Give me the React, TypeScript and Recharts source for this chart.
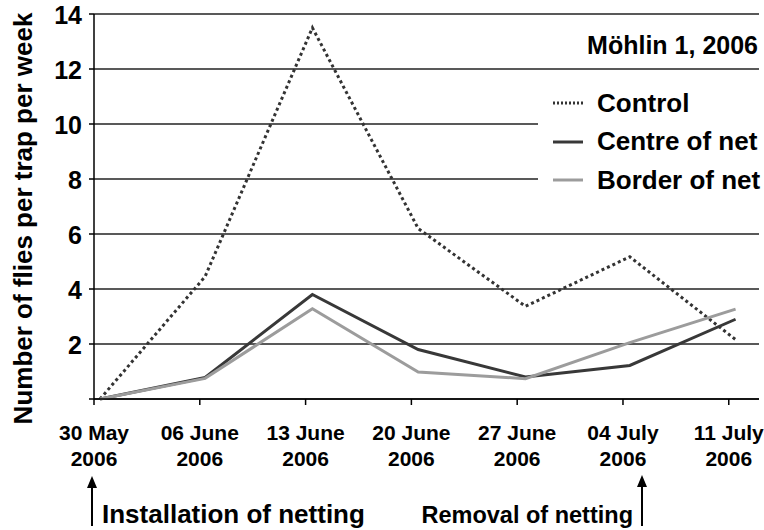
import React from 'react';
import { LineChart, Line, XAxis, YAxis, CartesianGrid, Label } from 'recharts';

const FONT = '"Liberation Sans", Arial, sans-serif';

const tickDates = ['30 May', '06 June', '13 June', '20 June', '27 June', '04 July', '11 July'];
const tickYear = '2006';
const tickDays = [0, 7, 14, 21, 28, 35, 42];
const yTicks = [0, 2, 4, 6, 8, 10, 12, 14];

// sampling days relative to 30 May (points sit a little right of the ticks)
const sampleDays = [0.4, 7.35, 14.45, 21.45, 28.55, 35.45, 42.45];
const control = [0, 4.45, 13.5, 6.2, 3.37, 5.17, 2.16];
const centre = [0, 0.78, 3.8, 1.8, 0.8, 1.22, 2.9];
const border = [0, 0.75, 3.28, 0.98, 0.74, 2.05, 3.27];

const series = [
  { key: 'control', name: 'Control', color: '#333333', dash: '3 3' },
  { key: 'centre', name: 'Centre of net', color: '#383838', dash: undefined },
  { key: 'border', name: 'Border of net', color: '#9c9c9c', dash: undefined },
];

const data = sampleDays.map((day, i) => ({
  day,
  control: control[i],
  centre: centre[i],
  border: border[i],
}));

const DateTick = ({ x, y, payload }: any) => {
  const i = tickDays.indexOf(payload.value);
  const style = { fontFamily: FONT, fontSize: 21, fontWeight: 'bold' as const, fill: '#000' };
  return (
    <g>
      <text x={x} y={y + 25} textAnchor="middle" dominantBaseline="central" style={style}>
        {tickDates[i]}
      </text>
      <text x={x} y={y + 51} textAnchor="middle" dominantBaseline="central" style={style}>
        {tickYear}
      </text>
    </g>
  );
};

const CountTick = ({ x, y, payload }: any) =>
  payload.value === 0 ? null : (
    <text
      x={x}
      y={y + 1}
      textAnchor="end"
      dominantBaseline="central"
      style={{ fontFamily: FONT, fontSize: 25, fontWeight: 'bold', fill: '#000' }}
    >
      {payload.value}
    </text>
  );

// legend box sits over the grid with a white background (hides parts of the 10 and 8 gridlines)
const LegendBox = () => (
  <div style={{ position: 'absolute', left: 538, top: 75, width: 222, height: 148, background: '#fff' }}>
    {series.map((s, i) => (
      <div
        key={s.key}
        style={{ position: 'absolute', left: 15, top: 28 + i * 38.5 - 15, height: 30, display: 'flex', alignItems: 'center' }}
      >
        <svg width={30} height={6}>
          <line x1={0} y1={3} x2={30} y2={3} stroke={s.color} strokeWidth={3} strokeDasharray={s.dash ? '2 2' : undefined} />
        </svg>
        <span style={{ marginLeft: 14, fontFamily: FONT, fontSize: 26, fontWeight: 'bold', color: '#000', whiteSpace: 'nowrap' }}>
          {s.name}
        </span>
      </div>
    ))}
  </div>
);

const Arrow = ({ x, tip, bottom }: { x: number; tip: number; bottom: number }) => (
  <g>
    <line x1={x} y1={tip + 8} x2={x} y2={bottom} stroke="#000" strokeWidth={2} />
    <polygon points={`${x},${tip} ${x - 5},${tip + 12} ${x + 5},${tip + 12}`} fill="#000" />
  </g>
);

export default function App() {
  const textStyle = { fontFamily: FONT, fontWeight: 'bold' as const, fill: '#000' };
  return (
    <div style={{ position: 'absolute', left: 0, top: 0, width: 764, height: 530, background: '#fff' }}>
      <LineChart width={764} height={530} data={data} margin={{ top: 14, right: 5, left: 0, bottom: 0 }}>
        <CartesianGrid vertical={false} stroke="#222" strokeWidth={1.5} />
        <XAxis
          dataKey="day"
          type="number"
          domain={[0, 44]}
          ticks={tickDays}
          height={131}
          stroke="#000"
          strokeWidth={1.5}
          tickSize={6}
          tickMargin={2}
          tick={<DateTick />}
          interval={0}
        />
        <YAxis
          domain={[0, 14]}
          ticks={yTicks}
          width={94}
          stroke="#000"
          strokeWidth={1.5}
          tickSize={5}
          tickMargin={7}
          tick={<CountTick />}
          interval={0}
        >
          <Label
            content={({ viewBox }: any) => {
              const cy = viewBox.y + viewBox.height / 2 + 12;
              return (
                <text
                  x={23}
                  y={cy}
                  transform={`rotate(-90 23 ${cy})`}
                  textAnchor="middle"
                  dominantBaseline="central"
                  style={{ ...textStyle, fontSize: 26 }}
                >
                  Number of flies per trap per week
                </text>
              );
            }}
          />
        </YAxis>
        {series.map((s) => (
          <Line
            key={s.key}
            type="linear"
            dataKey={s.key}
            name={s.name}
            stroke={s.color}
            strokeWidth={3}
            strokeDasharray={s.dash}
            dot={false}
            activeDot={false}
            isAnimationActive={false}
          />
        ))}
      </LineChart>
      <LegendBox />
      <svg width={764} height={530} style={{ position: 'absolute', left: 0, top: 0, pointerEvents: 'none' }}>
        <text x={758} y={45} textAnchor="end" dominantBaseline="central" style={{ ...textStyle, fontSize: 25 }}>
          Möhlin 1, 2006
        </text>
        <Arrow x={92} tip={476} bottom={526} />
        <text x={102} y={523} style={{ ...textStyle, fontSize: 26 }}>
          Installation of netting
        </text>
        <Arrow x={642} tip={475} bottom={526} />
        <text x={633} y={523} textAnchor="end" style={{ ...textStyle, fontSize: 23.5 }}>
          Removal of netting
        </text>
      </svg>
    </div>
  );
}
